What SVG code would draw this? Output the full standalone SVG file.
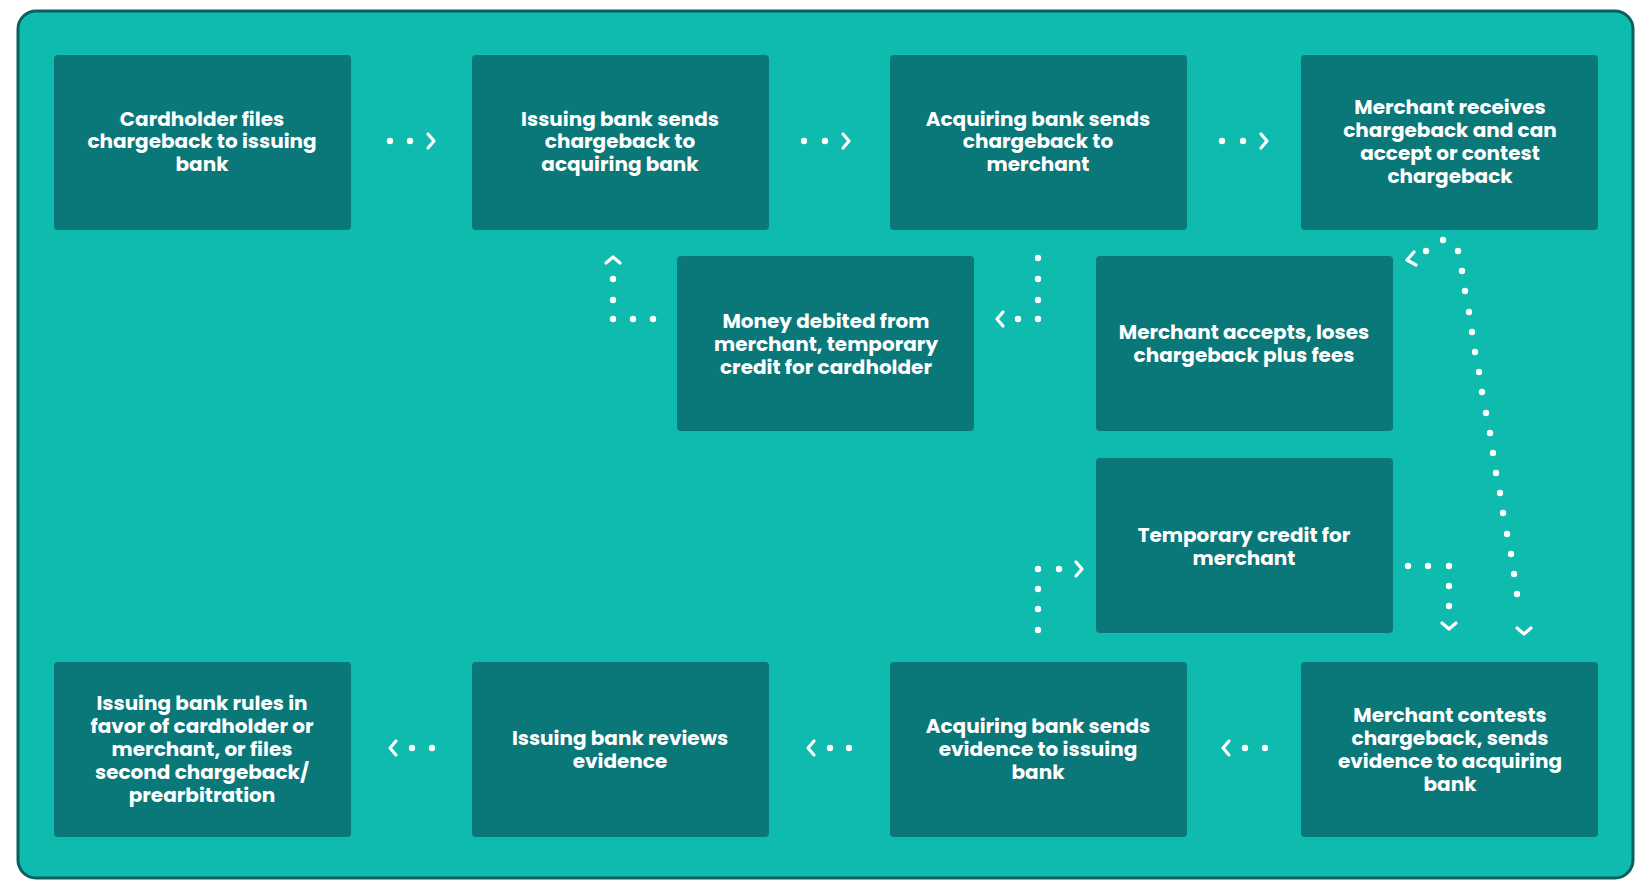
<svg xmlns="http://www.w3.org/2000/svg" width="1652" height="890" viewBox="0 0 1652 890">
<style>
.n rect{fill:#0a7779}
.n text{fill:#fff;font-family:Poppins,Inter,"Noto Sans",sans-serif;font-weight:700;font-size:20px;text-anchor:middle}
.c circle{fill:#fff}
.c path{fill:none;stroke:#fff;stroke-width:3.2;stroke-linecap:round;stroke-linejoin:round}
</style>
<rect width="1652" height="890" fill="#fff"/>
<rect x="18" y="11" width="1615" height="867" rx="18" fill="#0fbaaf" stroke="#0b5f5f" stroke-width="3"/>
<g class="n">
<g id="n1"><rect x="54" y="55" width="297" height="175" rx="4"/><text x="202" y="126">Cardholder files</text><text x="202" y="148">chargeback to issuing</text><text x="202" y="171">bank</text></g>
<g id="n2"><rect x="472" y="55" width="297" height="175" rx="4"/><text x="620" y="126">Issuing bank sends</text><text x="620" y="148">chargeback to</text><text x="620" y="171">acquiring bank</text></g>
<g id="n3"><rect x="890" y="55" width="297" height="175" rx="4"/><text x="1038" y="126">Acquiring bank sends</text><text x="1038" y="148">chargeback to</text><text x="1038" y="171">merchant</text></g>
<g id="n4"><rect x="1301" y="55" width="297" height="175" rx="4"/><text x="1450" y="114">Merchant receives</text><text x="1450" y="137">chargeback and can</text><text x="1450" y="160">accept or contest</text><text x="1450" y="183">chargeback</text></g>
<g id="n5"><rect x="677" y="256" width="297" height="175" rx="4"/><text x="826" y="328">Money debited from</text><text x="826" y="351">merchant, temporary</text><text x="826" y="374">credit for cardholder</text></g>
<g id="n6"><rect x="1096" y="256" width="297" height="175" rx="4"/><text x="1244" y="339">Merchant accepts, loses</text><text x="1244" y="362">chargeback plus fees</text></g>
<g id="n7"><rect x="1096" y="458" width="297" height="175" rx="4"/><text x="1244" y="542">Temporary credit for</text><text x="1244" y="565">merchant</text></g>
<g id="n8"><rect x="54" y="662" width="297" height="175" rx="4"/><text x="202" y="710">Issuing bank rules in</text><text x="202" y="733">favor of cardholder or</text><text x="202" y="756">merchant, or files</text><text x="202" y="779">second chargeback/</text><text x="202" y="802">prearbitration</text></g>
<g id="n9"><rect x="472" y="662" width="297" height="175" rx="4"/><text x="620" y="745">Issuing bank reviews</text><text x="620" y="768">evidence</text></g>
<g id="n10"><rect x="890" y="662" width="297" height="175" rx="4"/><text x="1038" y="733">Acquiring bank sends</text><text x="1038" y="756">evidence to issuing</text><text x="1038" y="779">bank</text></g>
<g id="n11"><rect x="1301" y="662" width="297" height="175" rx="4"/><text x="1450" y="722">Merchant contests</text><text x="1450" y="745">chargeback, sends</text><text x="1450" y="768">evidence to acquiring</text><text x="1450" y="791">bank</text></g>
</g>
<g class="c">
<circle cx="390" cy="141" r="3.2"/><circle cx="410" cy="141" r="3.2"/><path d="M428,134 l6,7 l-6,7"/>
<circle cx="804" cy="141" r="3.2"/><circle cx="825" cy="141" r="3.2"/><path d="M843,134 l6,7 l-6,7"/>
<circle cx="1222" cy="141" r="3.2"/><circle cx="1243" cy="141" r="3.2"/><path d="M1261,134 l6,7 l-6,7"/>
<path d="M396,741 l-6,7 l6,7"/><circle cx="412" cy="748" r="3.2"/><circle cx="432" cy="748" r="3.2"/>
<path d="M814,741 l-6,7 l6,7"/><circle cx="830" cy="748" r="3.2"/><circle cx="849" cy="748" r="3.2"/>
<path d="M1229,741 l-6,7 l6,7"/><circle cx="1245" cy="748" r="3.2"/><circle cx="1265" cy="748" r="3.2"/>
<circle cx="653" cy="319" r="3.2"/><circle cx="633" cy="319" r="3.2"/><circle cx="613" cy="319" r="3.2"/><circle cx="613" cy="300" r="3.2"/><circle cx="613" cy="279" r="3.2"/><path d="M606,263 l7,-6 l7,6"/>
<circle cx="1038" cy="258" r="3.2"/><circle cx="1038" cy="279" r="3.2"/><circle cx="1038" cy="300" r="3.2"/><circle cx="1038" cy="319" r="3.2"/><circle cx="1018" cy="319" r="3.2"/><path d="M1003,312 l-6,7 l6,7"/>
<circle cx="1038" cy="630" r="3.2"/><circle cx="1038" cy="609" r="3.2"/><circle cx="1038" cy="589" r="3.2"/><circle cx="1038" cy="569" r="3.2"/><circle cx="1059" cy="569" r="3.2"/><path d="M1076,562 l6,7 l-6,7"/>
<circle cx="1408" cy="566" r="3.2"/><circle cx="1428" cy="566" r="3.2"/><circle cx="1449" cy="566" r="3.2"/><circle cx="1449" cy="586" r="3.2"/><circle cx="1449" cy="606" r="3.2"/><path d="M1442,623 l7,6 l7,-6"/>
<path d="M1414,252 l-7,8 l9,5"/>
<circle cx="1426" cy="251" r="3.2"/><circle cx="1443" cy="240" r="3.2"/><circle cx="1458" cy="251" r="3.2"/><circle cx="1462" cy="271" r="3.2"/><circle cx="1465" cy="291" r="3.2"/><circle cx="1469" cy="312" r="3.2"/><circle cx="1472" cy="332" r="3.2"/><circle cx="1475" cy="352" r="3.2"/><circle cx="1479" cy="372" r="3.2"/><circle cx="1482" cy="392" r="3.2"/><circle cx="1486" cy="413" r="3.2"/><circle cx="1490" cy="433" r="3.2"/><circle cx="1493" cy="453" r="3.2"/><circle cx="1496" cy="473" r="3.2"/><circle cx="1500" cy="493" r="3.2"/><circle cx="1503" cy="513" r="3.2"/><circle cx="1507" cy="534" r="3.2"/><circle cx="1511" cy="554" r="3.2"/><circle cx="1514" cy="574" r="3.2"/><circle cx="1517" cy="594" r="3.2"/>
<path d="M1517,628 l7,6 l7,-6"/>
</g>
</svg>
